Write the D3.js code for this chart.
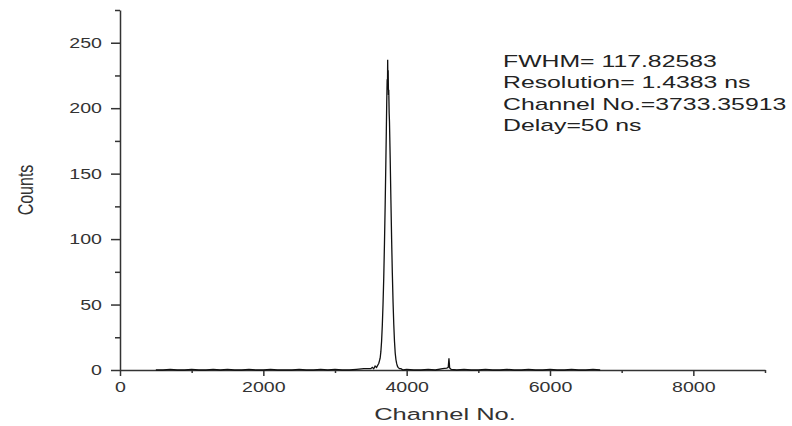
<!DOCTYPE html>
<html>
<head>
<meta charset="utf-8">
<script src="https://cdn.jsdelivr.net/npm/d3@7"></script>
<style>
  body { margin: 0; background: #fff; }
  text { font-family: "Liberation Sans", Arial, sans-serif; }
</style>
</head>
<body>
<script>
// spectrum (channel, counts)
var baseLeftCh = d3.range(500, 3600, 100);
var baseLeftCounts = [0,0,0.5,0,0,0.5,0,0,0.5,0,0.5,0,0,0.5,0,0,0.5,0,0,0,0.5,0,0,0.5,0,0.5,0,0,0.5,1,1];

var peakCh = [3520,3540,3560,3580,3600,3610,3620,3630,3640,3650,3660,3670,3680,3690,3700,3710,3716,3722,3728,3732,3735,3738,3742,3746,3750,3756,3760,3770,3780,3790,3800,3810,3820,3830,3840,3850,3860,3870,3880,3900,3920,3950];
var peakCounts = [2,1,3,2,4,5,7,9,14,22,34,50,70,96,126,160,182,205,222,214,237,221,229,210,214,196,190,162,130,100,74,52,35,22,13,8,5,3,2,1,1,0];

var baseRightCh = [4000,4100,4200,4300,4400,4500,4560,4580,4590,4600,4620,4700,4800,4900,5000,5100,5200,5300,5400,5500,5600,5700,5800,5900,6000,6100,6200,6300,6400,6500,6600,6700];
var baseRightCounts = [0.5,0,0,0.5,0,1,1.5,2,9,1.5,0.5,0,0.5,0,0,0.5,0,0,0.5,0,0,0.5,0,0,0.5,0,0,0.5,0,0,0.5,0];

var xMajor = [0, 2000, 4000, 6000, 8000];
var xMinor = [1000, 3000, 5000, 7000, 9000];
var yMajor = [0, 50, 100, 150, 200, 250];
var yMinor = [25, 75, 125, 175, 225, 275];

var notes = ["FWHM= 117.82583", "Resolution= 1.4383 ns", "Channel No.=3733.35913", "Delay=50 ns"];

var channels = baseLeftCh.concat(peakCh, baseRightCh);
var counts = baseLeftCounts.concat(peakCounts, baseRightCounts);
var data = channels.map(function (c, i) { return { ch: c, n: counts[i] }; });

var svg = d3.select('body')
            .append('svg')
            .attr('width', 792)
            .attr('height', 426);

var x = d3.scaleLinear().domain([0, 9000]).range([120, 765]);
var y = d3.scaleLinear().domain([0, 275]).range([370, 10]);

var sx = 1.4; // the original picture is stretched sideways

// x axis
var gx = svg.append('g').attr('transform', 'translate(0,370)');
gx.call(d3.axisBottom(x).tickValues(xMajor).tickSize(6).tickSizeOuter(0).tickFormat(d3.format('d')));
gx.append('g').call(d3.axisBottom(x).tickValues(xMinor).tickSize(3).tickFormat(''))
  .select('.domain').remove();
gx.selectAll('.domain').attr('stroke', '#333').attr('stroke-width', 1.5);
gx.selectAll('.tick line').attr('stroke', '#333').attr('stroke-width', 1.5);
gx.selectAll('.tick text')
  .attr('y', 12)
  .attr('font-size', 14)
  .attr('fill', '#333')
  .attr('transform', 'scale(' + sx + ',1)');

// y axis
var gy = svg.append('g').attr('transform', 'translate(120,0)');
gy.call(d3.axisLeft(y).tickValues(yMajor).tickSize(9).tickSizeOuter(0));
gy.append('g').call(d3.axisLeft(y).tickValues(yMinor).tickSize(5).tickFormat(''))
  .select('.domain').remove();
gy.selectAll('.domain').attr('stroke', '#333').attr('stroke-width', 1.5);
gy.selectAll('.tick line').attr('stroke', '#333').attr('stroke-width', 1.5);
gy.selectAll('.tick text')
  .attr('x', -18 / sx)
  .attr('font-size', 14)
  .attr('fill', '#333')
  .attr('transform', 'scale(' + sx + ',1)');

// spectrum line
var line = d3.line()
             .x(function (d) { return x(d.ch); })
             .y(function (d) { return y(d.n); });

svg.append('path')
   .datum(data)
   .attr('d', line)
   .attr('fill', 'none')
   .attr('stroke', '#111')
   .attr('stroke-width', 1.3);

// axis titles
svg.append('text')
   .attr('transform', 'translate(445,420) scale(1.5,1)')
   .attr('text-anchor', 'middle')
   .attr('font-size', 17)
   .attr('fill', '#333')
   .text('Channel No.');

svg.append('text')
   .attr('transform', 'translate(33,190) scale(1.4,1) rotate(-90)')
   .attr('text-anchor', 'middle')
   .attr('font-size', 16)
   .attr('fill', '#333')
   .text('Counts');

// fit results
svg.append('g')
   .selectAll('text')
   .data(notes)
   .enter()
   .append('text')
   .attr('transform', function (d, i) { return 'translate(503,' + (67 + i * 21.3) + ') scale(1.55,1)'; })
   .attr('font-size', 16)
   .attr('fill', '#222')
   .text(function (d) { return d; });
</script>
</body>
</html>
